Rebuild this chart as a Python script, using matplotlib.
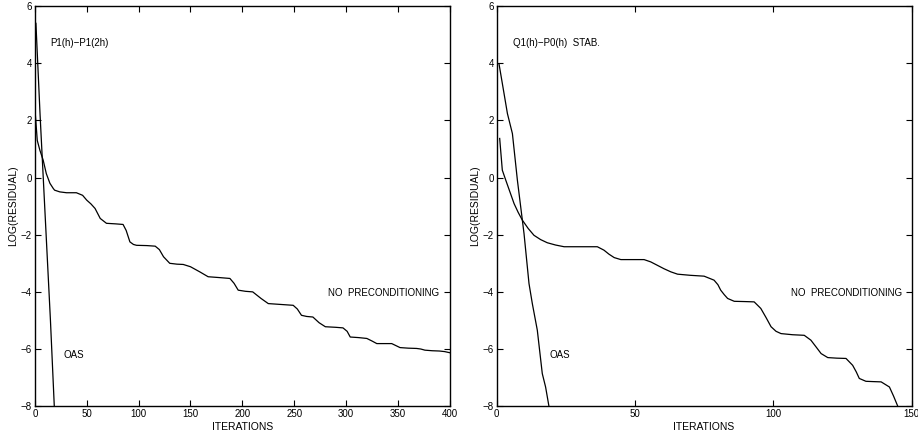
import numpy as np
import matplotlib.pyplot as plt

plt.rcParams['font.family'] = ['Liberation Sans', 'DejaVu Sans']

# left panel: P1(h)-P1(2h)
it_noprec_l = [0, 2.3, 4.8, 8, 11, 14.5, 17.7, 19, 24, 30.5, 40, 46, 50, 54, 58, 63, 69, 78, 85, 88, 91.6, 95, 98, 108, 116, 120, 124, 130, 137, 143, 150, 159, 167, 178, 188, 192, 196, 203, 210, 218, 225, 237, 249, 253, 257, 262, 268, 274, 280, 290, 297, 301, 304, 312, 320, 325, 329.6, 337, 344, 348, 352, 360, 368, 372, 376, 383, 390, 395, 400]
res_noprec_l = [2.42, 1.3, 0.96, 0.61, 0.14, -0.2, -0.38, -0.44, -0.5, -0.53, -0.53, -0.62, -0.79, -0.92, -1.08, -1.43, -1.6, -1.62, -1.64, -1.85, -2.25, -2.34, -2.37, -2.38, -2.4, -2.52, -2.77, -3.0, -3.03, -3.04, -3.12, -3.3, -3.47, -3.5, -3.53, -3.7, -3.94, -3.98, -4.0, -4.23, -4.41, -4.44, -4.47, -4.6, -4.82, -4.86, -4.88, -5.08, -5.22, -5.24, -5.26, -5.38, -5.58, -5.6, -5.63, -5.72, -5.81, -5.81, -5.81, -5.88, -5.95, -5.97, -5.98, -6.0, -6.04, -6.06, -6.07, -6.09, -6.13]
it_oas_l = [1, 5, 10, 15, 18.7]
res_oas_l = [5.4, 2.2, -1.4, -5.0, -8.0]

# right panel: Q1(h)-P0(h) stab.
it_noprec_r = [1.1, 2.05, 3.3, 4.8, 6.3, 7.8, 9.3, 11.4, 13.5, 15.9, 18.3, 21.3, 24.4, 30, 36.4, 38.8, 40.6, 42.5, 44.9, 49, 53.3, 55.7, 58.1, 60.5, 63, 65.4, 70, 75, 78.6, 80, 81, 82.3, 83.5, 85.9, 90, 93.1, 95.5, 97.4, 99.2, 101, 102.8, 107, 111.2, 113.6, 115.5, 117.3, 119.7, 123, 126.3, 128.7, 130, 131.1, 133.5, 136, 139, 142, 143.5, 145]
res_noprec_r = [1.37, 0.26, -0.09, -0.5, -0.91, -1.22, -1.49, -1.78, -2.02, -2.17, -2.28, -2.36, -2.42, -2.42, -2.42, -2.54, -2.68, -2.8, -2.87, -2.87, -2.87, -2.95, -3.07, -3.19, -3.3, -3.38, -3.42, -3.45, -3.59, -3.75, -3.94, -4.1, -4.23, -4.33, -4.34, -4.35, -4.58, -4.9, -5.22, -5.38, -5.46, -5.5, -5.52, -5.69, -5.93, -6.16, -6.3, -6.32, -6.33, -6.57, -6.8, -7.03, -7.13, -7.14, -7.15, -7.33, -7.65, -8.0]
it_oas_r = [0.84, 2.4, 3.9, 5.7, 7.5, 9.9, 11.7, 12.9, 14.7, 16.5, 17.7, 18.9]
res_oas_r = [3.99, 3.1, 2.24, 1.54, -0.09, -1.96, -3.71, -4.41, -5.34, -6.86, -7.33, -8.0]

fig = plt.figure(figsize=(9.18, 4.41), dpi=100)
ax1 = fig.add_axes([0.038, 0.079, 0.452, 0.907])
ax2 = fig.add_axes([0.541, 0.079, 0.452, 0.907])

ax1.plot(it_noprec_l, res_noprec_l, color='k', lw=0.9)
ax1.plot(it_oas_l, res_oas_l, color='k', lw=0.9)
ax2.plot(it_noprec_r, res_noprec_r, color='k', lw=0.9)
ax2.plot(it_oas_r, res_oas_r, color='k', lw=0.9)

fs = 7
ax1.text(14.5, 4.7, 'P1(h)\u2212P1(2h)', fontsize=fs, va='center')
ax1.text(283, -4.05, 'NO  PRECONDITIONING', fontsize=fs, va='center')
ax1.text(28, -6.2, 'OAS', fontsize=fs, va='center')
ax2.text(5.8, 4.7, 'Q1(h)\u2212P0(h)  STAB.', fontsize=fs, va='center')
ax2.text(106.3, -4.05, 'NO  PRECONDITIONING', fontsize=fs, va='center')
ax2.text(19.2, -6.2, 'OAS', fontsize=fs, va='center')

for ax, xmax, xt in [(ax1, 400, np.arange(0, 401, 50)), (ax2, 150, [0, 50, 100, 150])]:
    ax.set_xlim(0, xmax)
    ax.set_ylim(-8, 6)
    ax.set_xticks(xt)
    ax.set_yticks(np.arange(-8, 7, 2))
    ax.set_yticklabels(['\u2212%d' % -v if v < 0 else str(v) for v in range(-8, 7, 2)])
    ax.tick_params(direction='in', top=True, right=True, labelsize=fs, length=4, pad=2)
    ax.set_xlabel('ITERATIONS', fontsize=7.5, labelpad=2)
    ax.set_ylabel('LOG(RESIDUAL)', fontsize=7.5, labelpad=2)
    for s in ax.spines.values():
        s.set_linewidth(1.0)

fig.savefig('out.png', dpi=100)
